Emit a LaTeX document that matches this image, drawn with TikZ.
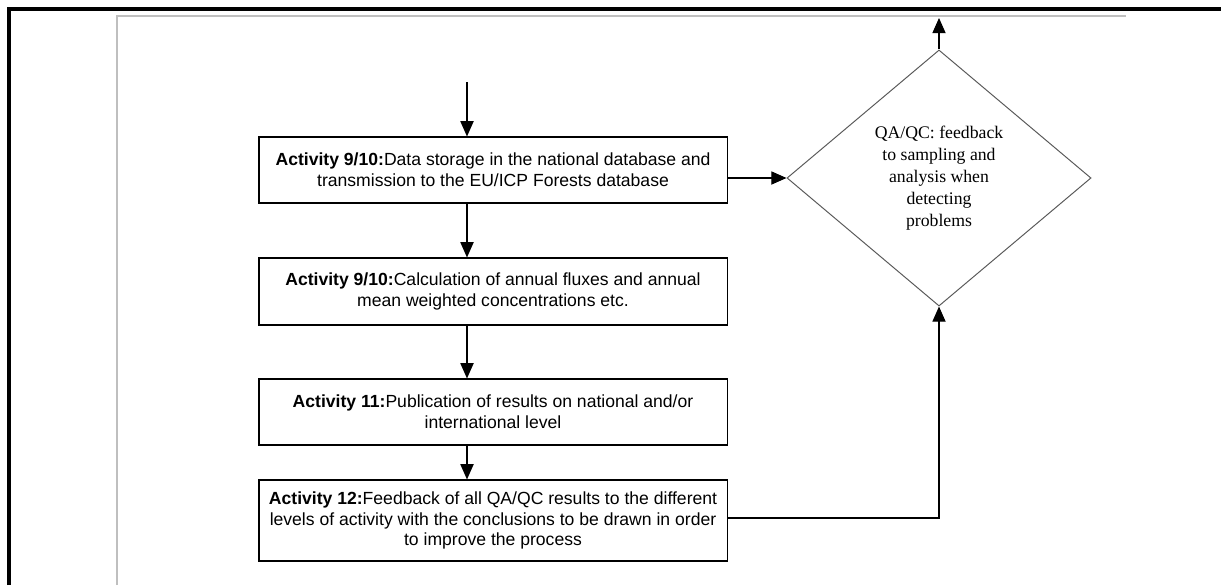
\documentclass[tikz,border=0pt]{standalone}
\usepackage{fontspec}
\setmainfont{Liberation Serif}
\setsansfont{Liberation Sans}
\usetikzlibrary{shapes.geometric,arrows.meta}

\tikzset{
  actbox/.style={draw, line width=0.8pt, minimum width=11.7cm, inner xsep=0pt, align=center,
    font=\sffamily\fontsize{12.5}{14.8}\selectfont},
  qabox/.style={draw=black!65, line width=0.7pt, diamond, minimum width=7.6cm, minimum height=6.4cm,
    inner sep=0pt, align=center, font=\fontsize{12.6}{15.6}\selectfont},
  flow/.style={line width=0.8pt, -{Triangle[length=0.38cm,width=0.33cm]}},
}

\begin{document}
\begin{tikzpicture}[x=0.025cm, y=-0.025cm]
\useasboundingbox (0,0) rectangle (1221,585);

%page frame
\draw [line width=2.2pt] (9,585) -- (9,9) -- (1221,9);
\draw [black!25, line width=1.1pt] (117,585) -- (117,16) -- (1126,16);

\node[actbox, minimum height=1.65cm] (act1) at (493,170)
  {\textbf{Activity 9/10:}Data storage in the national database and\\transmission to the EU/ICP Forests database};
\node[actbox, minimum height=1.675cm] (act2) at (493,291.5)
  {\textbf{Activity 9/10:}Calculation of annual fluxes and annual\\mean weighted concentrations etc.};
\node[actbox, minimum height=1.65cm] (act3) at (493,412)
  {\textbf{Activity 11:}Publication of results on national and/or\\international level};
\node[actbox, minimum height=2.025cm] (act4) at (493,520.5)
  {\textbf{Activity 12:}Feedback of all QA/QC results to the different\\levels of activity with the conclusions to be drawn in order\\to improve the process};

\node[qabox] (qa) at (939,178)
  {QA/QC: feedback\\to sampling and\\analysis when\\detecting\\problems};

\coordinate (in) at (467,82);
\coordinate (out) at (939,18);
\coordinate (back) at (939,518);

\draw[flow] (in) -- (in |- act1.north);
\draw[flow] (in |- act1.south) -- (in |- act2.north);
\draw[flow] (in |- act2.south) -- (in |- act3.north);
\draw[flow] (in |- act3.south) -- (in |- act4.north);

\draw[flow] (act1.east |- qa.west) -- (qa.west);
\draw[flow] (qa.north) -- (out);
\draw[flow] (act4.east |- back) -- (back) -- (qa.south);

\end{tikzpicture}
\end{document}
